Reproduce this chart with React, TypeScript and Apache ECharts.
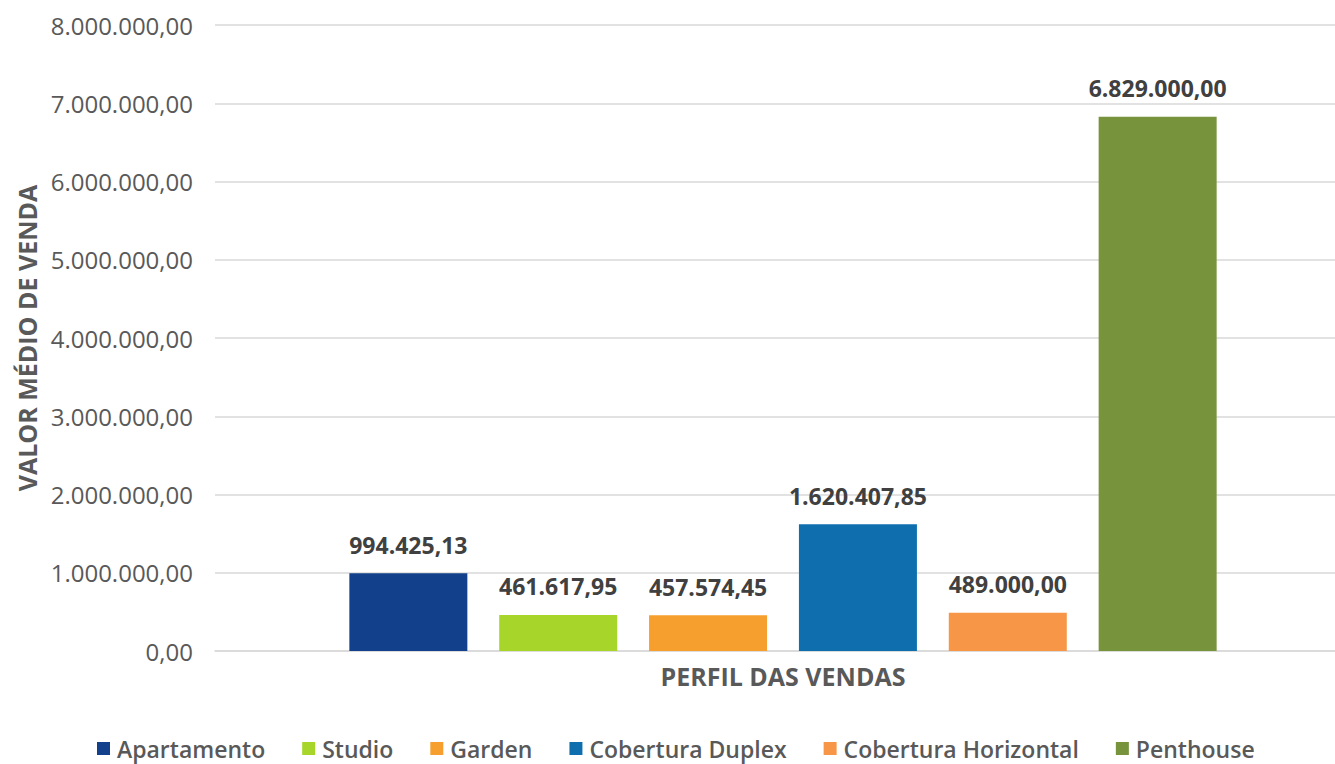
import React, { useEffect, useRef } from "react";
import * as echarts from "echarts";

const categories = ["Perfil"];
const seriesNames = [
  "Apartamento",
  "Studio",
  "Garden",
  "Cobertura Duplex",
  "Cobertura Horizontal",
  "Penthouse",
];
const seriesValues = [994425.13, 461617.95, 457574.45, 1620407.85, 489000.0, 6829000.0];
const seriesColors = ["#12408A", "#A7D52A", "#F79F2E", "#0F6FAE", "#F79646", "#77933C"];
const yMin = 0;
const yMax = 8000000;
const yInterval = 1000000;

function fmtBR(v: number): string {
  const fixed = Math.abs(v).toFixed(2);
  const [intPart, dec] = fixed.split(".");
  const withDots = intPart.replace(/\B(?=(\d{3})+(?!\d))/g, ".");
  return (v < 0 ? "-" : "") + withDots + "," + dec;
}

export default function App() {
  const ref = useRef<HTMLDivElement>(null);
  useEffect(() => {
    if (!ref.current) return;
    const chart = echarts.init(ref.current, null, { renderer: "svg" });
    const font = "'Open Sans', sans-serif";
    chart.setOption({
      animation: false,
      textStyle: { fontFamily: font },
      grid: { left: 215, right: 0, top: 25, bottom: 113, containLabel: false },
      legend: {
        top: 737,
        left: 97,
        icon: "rect",
        itemWidth: 13,
        itemHeight: 13,
        itemGap: 37,
        padding: 0,
        textStyle: {
          fontSize: 23,
          color: "#595959",
          fontWeight: 600,
          fontFamily: font,
          padding: [0, 0, 0, 2],
        },
        data: seriesNames,
      },
      xAxis: {
        type: "category",
        data: categories,
        name: "PERFIL DAS VENDAS",
        nameLocation: "middle",
        nameGap: 12,
        nameTextStyle: { fontSize: 25, fontWeight: "bold", color: "#595959", fontFamily: font },
        axisLine: { show: true, lineStyle: { color: "#d9d9d9", width: 1.5 } },
        axisTick: { show: false },
        axisLabel: { show: false },
      },
      yAxis: {
        type: "value",
        min: yMin,
        max: yMax,
        interval: yInterval,
        name: "VALOR MÉDIO DE VENDA",
        nameLocation: "middle",
        nameGap: 174,
        nameRotate: 90,
        nameTextStyle: { fontSize: 25, fontWeight: "bold", color: "#595959", fontFamily: font },
        axisLine: { show: false },
        axisTick: { show: false },
        axisLabel: {
          fontSize: 24,
          color: "#595959",
          margin: 22,
          fontFamily: font,
          formatter: (v: number) => fmtBR(v),
        },
        splitLine: { lineStyle: { color: "#d9d9d9", width: 1.5 } },
      },
      series: seriesNames.map((name, i) => ({
        name,
        type: "bar",
        data: [seriesValues[i]],
        barWidth: 118,
        barGap: "27%",
        itemStyle: { color: seriesColors[i] },
        label: {
          show: true,
          position: "top",
          distance: 17,
          fontSize: 23,
          fontWeight: "bold",
          color: "#404040",
          fontFamily: font,
          formatter: (p: any) => fmtBR(p.value),
        },
      })),
    });
    return () => chart.dispose();
  }, []);
  return (
    <div
      style={{
        position: "fixed",
        left: 0,
        top: 0,
        width: 1335,
        height: 764,
        overflow: "hidden",
        background: "#fff",
      }}
    >
      <div ref={ref} style={{ width: 1351, height: 764 }} />
    </div>
  );
}
